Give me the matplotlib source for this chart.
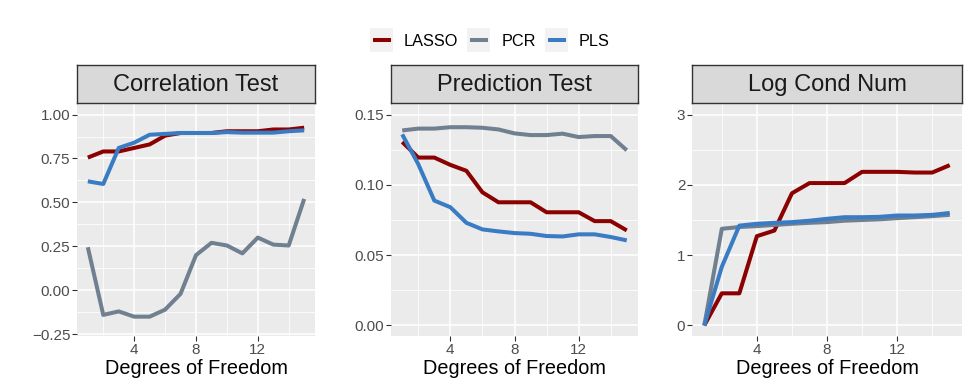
import matplotlib
matplotlib.use("Agg")
import matplotlib.pyplot as plt
from matplotlib.patches import Rectangle
from matplotlib.lines import Line2D
import numpy as np

plt.rcParams['font.family'] = ['Liberation Sans', 'DejaVu Sans']

dof = list(range(1, 16))

corr_lasso = [0.755, 0.79, 0.79, 0.81, 0.83, 0.88, 0.895, 0.895, 0.895, 0.905, 0.905, 0.905, 0.915, 0.915, 0.925]
corr_pcr = [0.245, -0.14, -0.12, -0.15, -0.15, -0.11, -0.02, 0.20, 0.27, 0.255, 0.21, 0.30, 0.26, 0.255, 0.52]
corr_pls = [0.62, 0.605, 0.81, 0.84, 0.885, 0.89, 0.895, 0.895, 0.895, 0.90, 0.897, 0.897, 0.897, 0.905, 0.91]

pred_lasso = [0.1305, 0.1194, 0.1194, 0.1142, 0.110, 0.0947, 0.0876, 0.0876, 0.0876, 0.0805, 0.0805, 0.0805, 0.0742, 0.0742, 0.0676]
pred_pcr = [0.1387, 0.140, 0.140, 0.141, 0.141, 0.1406, 0.1394, 0.1366, 0.1354, 0.1354, 0.1364, 0.134, 0.1347, 0.1347, 0.1246]
pred_pls = [0.1359, 0.1147, 0.0888, 0.0841, 0.073, 0.0683, 0.0669, 0.0657, 0.0652, 0.0636, 0.0633, 0.0648, 0.0648, 0.0629, 0.0605]

cond_lasso = [0.0, 0.457, 0.457, 1.27, 1.35, 1.88, 2.025, 2.025, 2.025, 2.185, 2.185, 2.185, 2.175, 2.175, 2.28]
cond_pcr = [0.0, 1.375, 1.40, 1.413, 1.43, 1.446, 1.46, 1.47, 1.49, 1.50, 1.51, 1.526, 1.54, 1.555, 1.573]
cond_pls = [0.0, 0.834, 1.42, 1.446, 1.46, 1.47, 1.49, 1.517, 1.54, 1.54, 1.545, 1.564, 1.564, 1.573, 1.60]

methods = ["LASSO", "PCR", "PLS"]
colors = {"LASSO": "#8B0000", "PCR": "#708090", "PLS": "#3A7CC4"}

panels = [
    ("Correlation Test", {"LASSO": corr_lasso, "PCR": corr_pcr, "PLS": corr_pls},
     [-0.25, 0.0, 0.25, 0.50, 0.75, 1.00], ["\u22120.25", "0.00", "0.25", "0.50", "0.75", "1.00"], (-0.2, 1.0)),
    ("Prediction Test", {"LASSO": pred_lasso, "PCR": pred_pcr, "PLS": pred_pls},
     [0.0, 0.05, 0.10, 0.15], ["0.00", "0.05", "0.10", "0.15"], (0.0, 0.15)),
    ("Log Cond Num", {"LASSO": cond_lasso, "PCR": cond_pcr, "PLS": cond_pls},
     [0, 1, 2, 3], ["0", "1", "2", "3"], (0.0, 3.0)),
]
xticks = [4, 8, 12]
x_minor = [2, 6, 10, 14]

W, H = 969, 388
fig = plt.figure(figsize=(W / 100, H / 100), dpi=100)

lefts = [77, 391, 692]
rights = [315, 638, 962]
top_px, bot_px = 104, 336
strip_top, strip_bot = 65, 103

for (title, series, yt, ytl, (ylo, yhi)), l, r in zip(panels, lefts, rights):
    ax = fig.add_axes([l / W, 1 - bot_px / H, (r - l) / W, (bot_px - top_px) / H])
    ax.set_facecolor("#EBEBEB")
    for s in ax.spines.values():
        s.set_visible(False)
    xr = dof[-1] - dof[0]
    ax.set_xlim(dof[0] - 0.05 * xr, dof[-1] + 0.05 * xr)
    yr = yhi - ylo
    ax.set_ylim(ylo - 0.05 * yr, yhi + 0.05 * yr)
    ax.set_xticks(xticks)
    ax.set_xticklabels([str(t) for t in xticks])
    ax.set_yticks(yt)
    ax.set_yticklabels(ytl)
    ymin_list = [(yt[i] + yt[i + 1]) / 2 for i in range(len(yt) - 1)]
    ax.set_xticks(x_minor, minor=True)
    ax.set_yticks(ymin_list, minor=True)
    ax.grid(which="major", color="white", lw=1.1)
    ax.grid(which="minor", color="white", lw=0.55)
    ax.set_axisbelow(True)
    ax.tick_params(which="major", length=3.3, width=0.8, color="#333333", labelcolor="#4D4D4D",
                   labelsize=11, pad=1.5)
    ax.tick_params(which="minor", length=0)
    for m in ["LASSO", "PCR", "PLS"]:
        ax.plot(dof, series[m], color=colors[m], lw=2.9, solid_capstyle="butt",
                zorder=3 if m != "PLS" else 4)
    ax.set_xlabel("Degrees of Freedom", fontsize=14.3, labelpad=1.5, color="black")

    sax = fig.add_axes([l / W, 1 - strip_bot / H, (r - l) / W, (strip_bot - strip_top) / H])
    sax.set_facecolor("#D9D9D9")
    sax.set_xticks([])
    sax.set_yticks([])
    for s in sax.spines.values():
        s.set_color("#333333")
        s.set_linewidth(1.0)
    sax.text(0.5, 0.47, title, ha="center", va="center", fontsize=17, color="#1A1A1A",
             transform=sax.transAxes)

# legend
key_x = {"LASSO": 370, "PCR": 467, "PLS": 545}
text_x = {"LASSO": 404, "PCR": 502, "PLS": 579}
for m in methods:
    kx = key_x[m]
    fig.patches.append(Rectangle((kx / W, 1 - 52 / H), 23 / W, 24 / H, transform=fig.transFigure,
                                 facecolor="#F2F2F2", edgecolor="none"))
    fig.lines.append(Line2D([(kx + 2.5) / W, (kx + 20.5) / W], [1 - 40 / H, 1 - 40 / H],
                            transform=fig.transFigure, color=colors[m], lw=2.9,
                            solid_capstyle="butt"))
    fig.text(text_x[m] / W, 1 - 41 / H, m, ha="left", va="center", fontsize=11.7, color="black")

fig.savefig("out.png", dpi=100)
